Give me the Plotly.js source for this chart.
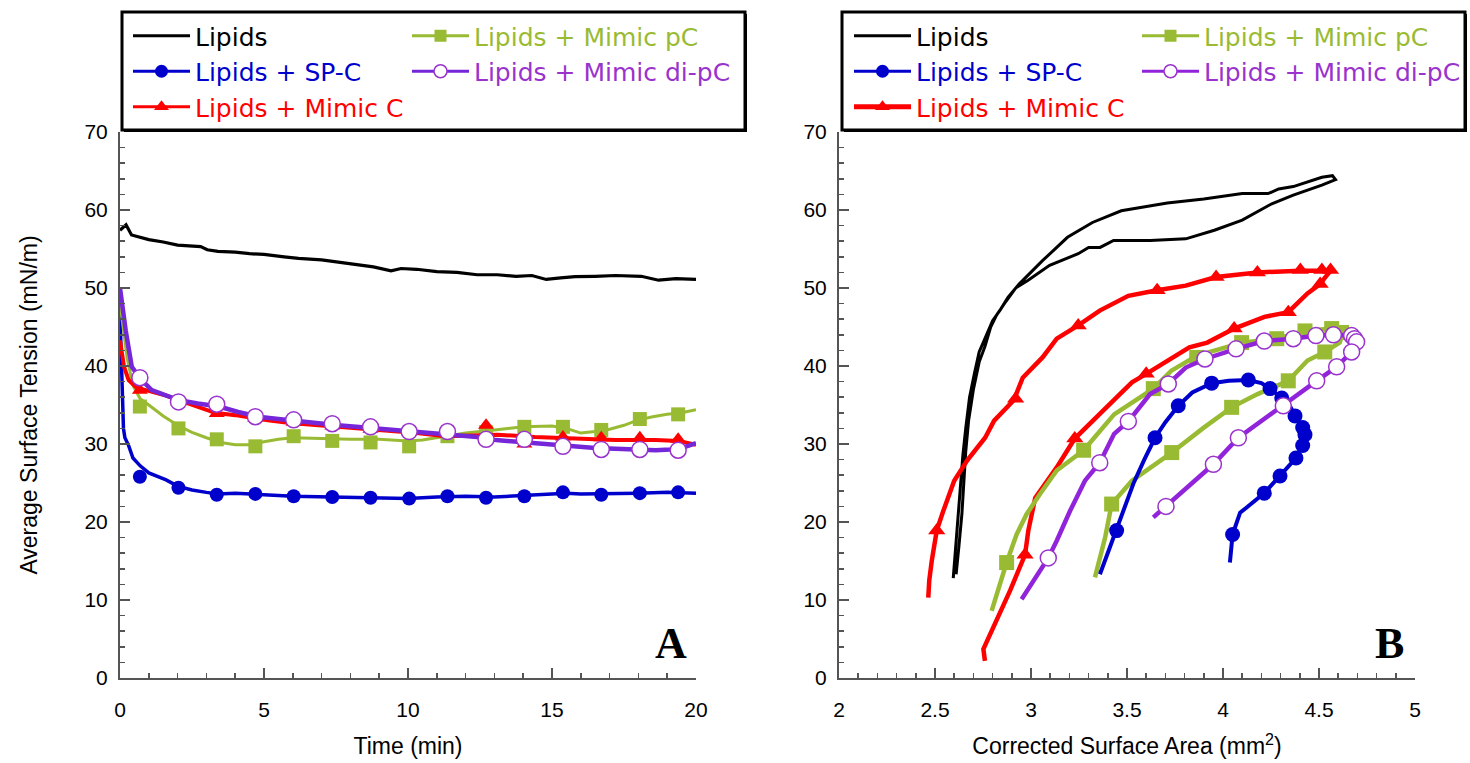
<!DOCTYPE html>
<html><head><meta charset="utf-8">
<script src="https://cdn.plot.ly/plotly-3.0.1.min.js"></script>
<style>html,body{margin:0;padding:0;background:#fff}#chart{width:1470px;height:763px}</style>
</head><body><div id="chart"></div>
<script>
// ---------- Panel A : surface tension vs time ----------
const A_lipids_t = [0,0.1,0.21,0.4,0.7,1.0,1.5,2.0,2.8,3.03,3.4,4.0,4.5,5.0,5.7,6.2,7.0,7.6,8.25,8.8,9.41,9.76,10.3,11.0,11.7,12.4,13.1,13.75,14.3,14.8,15.3,15.8,16.5,17.2,18.1,18.4,18.7,19.3,20];
const A_lipids_v = [57.4,57.7,58.1,56.8,56.5,56.2,55.9,55.5,55.3,54.9,54.7,54.6,54.4,54.3,54.0,53.8,53.6,53.3,52.9,52.7,52.2,52.5,52.4,52.1,52.0,51.7,51.7,51.5,51.6,51.1,51.3,51.45,51.5,51.6,51.5,51.3,51.0,51.2,51.1];

const A_spc_t = [0,0.04,0.08,0.12,0.17,0.3,0.45,0.7,1.0,1.3,1.6,2.0,2.5,3.0,3.4,4.0,4.7,5.5,6.0,7.0,8.0,9.0,10.0,11.0,12.0,13.0,14.0,15.0,15.5,16.0,17.0,18.0,19.0,20.0];
const A_spc_v = [46.5,41,36,32,30.8,29.8,28.2,27.2,26.3,25.8,25.4,24.6,24.1,23.8,23.6,23.7,23.6,23.4,23.3,23.2,23.2,23.1,23.0,23.2,23.3,23.2,23.4,23.6,23.7,23.6,23.6,23.7,23.8,23.7];

const A_pc_t = [0,0.1,0.25,0.45,0.7,1,1.5,2,2.5,3,3.5,4,4.5,5,5.5,6,7,8,9,10,10.5,11,11.5,12,13,14,15,15.5,16,16.5,17,17.5,18,18.5,19,19.5,20];
const A_pc_v = [48,45,41,37.5,35.8,35.0,33.6,32.4,31.5,30.8,30.2,29.9,29.9,30.3,30.6,30.8,30.7,30.6,30.6,30.4,30.5,30.8,31.1,31.4,31.8,32.2,32.3,32.0,31.4,31.6,31.9,32.4,33.1,33.5,33.8,34.0,34.4];

const A_mc_t = [0,0.14,0.3,0.55,0.8,1.2,1.6,2.06,2.7,3.3,4.0,4.6,5.2,5.9,6.6,7.3,8.0,8.8,9.5,10.3,11.3,12.2,13.1,14.4,15.8,17.2,18.6,19.4,20];
const A_mc_v = [43.3,39.9,38.2,37.3,37.0,36.6,36.2,35.6,34.8,34.0,33.7,33.3,33.0,32.7,32.5,32.2,32.0,31.8,31.6,31.4,31.0,31.1,31.2,30.9,30.7,30.5,30.5,30.4,29.9];

const A_dipc_t = [0,0.1,0.2,0.41,0.7,1.1,1.5,2.06,2.7,3.44,4.1,4.8,5.5,6.2,6.9,7.56,8.2,8.9,9.6,10.3,11.0,11.7,12.4,13.06,13.7,14.4,15.1,15.8,16.5,17.2,17.9,18.6,19.1,19.6,20];
const A_dipc_v = [50,47,44.5,39.9,38.4,36.9,36.3,35.6,35.2,34.8,34.1,33.5,33.2,32.9,32.6,32.4,32.2,32.0,31.8,31.6,31.4,31.2,30.9,30.5,30.3,30.1,29.9,29.7,29.5,29.4,29.3,29.2,29.3,29.6,30.1];

// marker positions (time, min) shared by all panel-A symbol series
const A_mark_t = [0.69,2.03,3.36,4.7,6.03,7.37,8.7,10.04,11.37,12.71,14.04,15.38,16.71,18.05,19.38];
const A_spc_mark_v  = [25.8,24.4,23.5,23.6,23.3,23.2,23.1,23.0,23.3,23.1,23.3,23.8,23.5,23.7,23.8];
const A_pc_mark_v   = [34.8,32.0,30.6,29.7,31.0,30.4,30.2,29.7,31.0,31.5,32.2,32.2,31.8,33.2,33.8];
const A_mc_mark_v   = [36.9,35.4,33.9,33.3,32.8,32.3,31.9,31.6,31.3,32.4,30.0,30.9,30.8,30.8,30.6];
const A_dipc_mark_v = [38.5,35.4,35.1,33.5,33.1,32.6,32.2,31.6,31.6,30.6,30.6,29.7,29.3,29.3,29.2];

// ---------- Panel B : surface tension vs corrected area ----------
const B_lipids_a = [2.595,2.605,2.62,2.635,2.645,2.66,2.68,2.705,2.73,2.76,2.80,2.84,2.88,2.938,3.06,3.19,3.32,3.47,3.71,3.90,4.10,4.235,4.29,4.366,4.46,4.515,4.57,4.586,4.515,4.366,4.254,4.10,3.955,3.806,3.62,3.43,3.36,3.30,3.246,3.097,2.985,2.92,2.87,2.82,2.79,2.76,2.73,2.70,2.675,2.66,2.65,2.64,2.625,2.61];
const B_lipids_v = [12.8,16,20,25,28.5,32,36,39,41.8,43.5,45.8,47.2,48.8,50.5,53.5,56.5,58.4,59.9,60.9,61.4,62.1,62.1,62.7,63.0,63.7,64.2,64.4,63.9,63.2,61.9,60.8,58.7,57.4,56.3,56.1,56.1,55.2,55.2,54.4,52.9,51.0,50.0,48.3,46.5,45.0,42.5,40.5,37,33,29,25,21,17,13.3];

const B_mc_a = [2.465,2.47,2.483,2.509,2.543,2.60,2.668,2.761,2.808,2.91,2.957,3.06,3.134,3.246,3.358,3.507,3.657,3.806,3.964,4.179,4.403,4.515,4.56,4.53,4.506,4.44,4.34,4.216,4.058,3.918,3.825,3.60,3.526,3.377,3.228,3.134,3.022,2.986,2.969,2.891,2.821,2.752,2.76];
const B_mc_v = [10.3,12.5,15.0,18.9,21.4,25.3,27.9,30.8,33.0,35.6,38.5,41.1,43.5,45.2,47.1,49.0,49.7,50.3,51.4,52.0,52.2,52.2,52.2,51.3,50.5,49.3,46.9,46.3,44.8,43.0,42.4,39.0,37.9,34.3,30.7,27.0,23.1,18.9,15.8,11.2,7.3,3.7,2.2];
const B_mc_mark_a = [2.509,2.92,3.246,3.657,3.964,4.179,4.403,4.515,4.56,4.506,4.34,4.058,3.60,3.228,2.969];
const B_mc_mark_v = [18.9,35.8,45.2,49.7,51.4,52.0,52.3,52.3,52.3,50.5,46.9,44.8,39.0,30.7,15.8];

const B_pc_a = [2.795,2.83,2.873,2.925,2.977,3.047,3.134,3.274,3.433,3.637,3.731,3.863,4.097,4.28,4.427,4.566,4.627,4.608,4.53,4.44,4.34,4.18,4.045,3.9,3.733,3.526,3.42,3.386,3.333];
const B_pc_v = [8.6,11.5,14.8,18.4,21.0,23.6,26.6,29.2,33.8,37.1,39.4,41.3,43.0,43.5,44.5,44.8,44.5,43.0,41.8,40.7,38.1,36.4,34.7,32.1,28.9,25.3,22.3,18.0,12.9];
const B_pc_mark_a = [2.873,3.274,3.637,3.863,4.097,4.28,4.427,4.566,4.618,4.53,4.34,4.045,3.733,3.42];
const B_pc_mark_v = [14.8,29.2,37.1,41.1,43.0,43.5,44.5,44.8,44.3,41.8,38.1,34.7,28.9,22.3];

const B_spc_a = [3.359,3.40,3.446,3.49,3.533,3.59,3.646,3.70,3.767,3.84,3.941,4.03,4.132,4.20,4.245,4.306,4.35,4.375,4.415,4.427,4.415,4.38,4.297,4.215,4.12,4.089,4.05,4.036];
const B_spc_v = [13.3,16,18.9,21.9,24.9,28,30.8,32.8,34.9,36.6,37.8,38.1,38.2,37.8,37.1,35.9,34.8,33.6,32.1,31.2,29.8,28.2,25.9,23.7,21.8,21.2,18.4,14.8];
const B_spc_mark_a = [3.446,3.646,3.767,3.941,4.132,4.245,4.306,4.375,4.415,4.427,4.415,4.38,4.297,4.215,4.05];
const B_spc_mark_v = [18.9,30.8,34.9,37.8,38.2,37.1,35.9,33.6,32.1,31.2,29.8,28.2,25.9,23.7,18.4];

const B_dipc_a = [2.951,3.02,3.09,3.134,3.203,3.281,3.358,3.433,3.507,3.62,3.715,3.806,3.906,4.068,4.215,4.366,4.484,4.575,4.67,4.69,4.696,4.67,4.592,4.488,4.40,4.314,4.18,4.08,3.95,3.83,3.703,3.637];
const B_dipc_v = [10.1,12.8,15.4,17.6,21.4,25.3,27.6,31.3,32.9,36.4,37.7,39.8,40.9,42.2,43.2,43.5,43.9,44.0,43.9,43.4,43.0,41.8,39.9,38.1,36.5,34.9,32.5,30.8,27.4,24.8,22.0,20.6];
const B_dipc_mark_a = [3.09,3.358,3.507,3.715,3.906,4.068,4.215,4.366,4.484,4.575,4.67,4.685,4.696,4.67,4.592,4.488,4.314,4.08,3.95,3.703];
const B_dipc_mark_v = [15.4,27.6,32.9,37.7,40.9,42.2,43.2,43.5,43.9,44.0,43.9,43.5,43.1,41.8,39.9,38.1,34.9,30.8,27.4,22.0];

// legend labels
const names = {lipids:'Lipids', spc:'Lipids + SP-C', mc:'Lipids + Mimic C', pc:'Lipids + Mimic pC', dipc:'Lipids + Mimic di-pC'};
const textCol = {lipids:'#000000', spc:'#0000CC', mc:'#FF0000', pc:'#99BB33', dipc:'#9933CC'};

// ---------- styling ----------
const W = 1470, H = 763;
const px = p => p / W, py = p => 1 - p / H;
const SANS = 'Liberation Sans, Arial, sans-serif';
const C = {lipids:'#000000', spc:'#0000CC', mc:'#FF0000', pc:'#99BB33', dipcA:'#7426D8', dipcB:'#9124DA', dipcEdge:'#9933CC'};

function line(x, y, color, width, xa, ya) {
  return {x, y, mode:'lines', line:{color, width, shape:'linear'}, xaxis:xa, yaxis:ya, showlegend:false, hoverinfo:'skip'};
}
function marks(x, y, marker, xa, ya) {
  return {x, y, mode:'markers', marker, xaxis:xa, yaxis:ya, showlegend:false, hoverinfo:'skip', cliponaxis:false};
}
function proxy(key, color, width, marker, xa, ya, legend) {
  const t = {x:[null], y:[null], mode: marker ? 'lines+markers' : 'lines',
    name:'<span style="color:' + textCol[key] + '">' + names[key] + '</span>',
    line:{color, width}, xaxis:xa, yaxis:ya, legend, showlegend:true, hoverinfo:'skip'};
  if (marker) t.marker = marker;
  return t;
}
const mCirc = (c, s) => ({symbol:'circle', size:s, color:c, line:{width:0}});
const mSq = (c, s) => ({symbol:'square', size:s, color:c, line:{width:0}});
const mTri = (c, s) => ({symbol:'triangle-up', size:s, color:c, line:{width:0}});
const mOpen = (s) => ({symbol:'circle', size:s, color:'#FFFFFF', line:{width:1.5, color:C.dipcEdge}});

const traces = [
  // panel A
  line(A_lipids_t, A_lipids_v, C.lipids, 3.2, 'x', 'y'),
  line(A_spc_t, A_spc_v, C.spc, 3.5, 'x', 'y'),
  marks(A_mark_t, A_spc_mark_v, mCirc(C.spc, 14), 'x', 'y'),
  line(A_pc_t, A_pc_v, C.pc, 3, 'x', 'y'),
  marks(A_mark_t, A_pc_mark_v, mSq(C.pc, 14), 'x', 'y'),
  line(A_mc_t, A_mc_v, C.mc, 4, 'x', 'y'),
  marks(A_mark_t, A_mc_mark_v, mTri(C.mc, 14), 'x', 'y'),
  line(A_dipc_t, A_dipc_v, C.dipcA, 4.5, 'x', 'y'),
  marks(A_mark_t, A_dipc_mark_v, mOpen(16), 'x', 'y'),
  // panel B
  line(B_lipids_a, B_lipids_v, C.lipids, 3, 'x2', 'y2'),
  line(B_mc_a, B_mc_v, C.mc, 4.5, 'x2', 'y2'),
  marks(B_mc_mark_a, B_mc_mark_v, mTri(C.mc, 15), 'x2', 'y2'),
  line(B_pc_a, B_pc_v, C.pc, 4.5, 'x2', 'y2'),
  marks(B_pc_mark_a, B_pc_mark_v, mSq(C.pc, 15), 'x2', 'y2'),
  line(B_spc_a, B_spc_v, C.spc, 4, 'x2', 'y2'),
  marks(B_spc_mark_a, B_spc_mark_v, mCirc(C.spc, 15), 'x2', 'y2'),
  line(B_dipc_a, B_dipc_v, C.dipcB, 4.5, 'x2', 'y2'),
  marks(B_dipc_mark_a, B_dipc_mark_v, mOpen(16), 'x2', 'y2'),
  // legend entries
  proxy('lipids', C.lipids, 3, null, 'x', 'y', 'legend'),
  proxy('spc', C.spc, 3, mCirc(C.spc, 13), 'x', 'y', 'legend'),
  proxy('mc', C.mc, 3, mTri(C.mc, 13), 'x', 'y', 'legend'),
  proxy('pc', C.pc, 3, mSq(C.pc, 12), 'x', 'y', 'legend2'),
  proxy('dipc', C.dipcA, 3, mOpen(13), 'x', 'y', 'legend2'),
  proxy('lipids', C.lipids, 3, null, 'x2', 'y2', 'legend3'),
  proxy('spc', C.spc, 3, mCirc(C.spc, 13), 'x2', 'y2', 'legend3'),
  proxy('mc', C.mc, 5, mTri(C.mc, 13), 'x2', 'y2', 'legend3'),
  proxy('pc', C.pc, 3, mSq(C.pc, 12), 'x2', 'y2', 'legend4'),
  proxy('dipc', C.dipcB, 3, mOpen(13), 'x2', 'y2', 'legend4')
];

const tickStyle = {showline:true, linecolor:'#555', linewidth:2, ticks:'inside', ticklen:10, tickwidth:1.5, tickcolor:'#555',
  showgrid:false, zeroline:false, fixedrange:true, tickfont:{family:SANS, size:21, color:'#000'}};
const minorStyle = {ticks:'inside', ticklen:5, tickwidth:1.5, tickcolor:'#555', showgrid:false};
const titleFont = {family:SANS, size:23, color:'#000'};
const yDom = [1 - 678 / H, 1 - 132 / H];

function legendAt(xp) {
  return {x:px(xp), y:py(13), xanchor:'left', yanchor:'top', orientation:'v', bgcolor:'rgba(0,0,0,0)', borderwidth:0,
    font:{family:'DejaVu Sans, sans-serif', size:25, color:'#000'}, itemwidth:57, tracegroupgap:0, itemclick:false, itemdoubleclick:false};
}
function box(x0, x1, y0, y1) {
  return [
    {type:'rect', xref:'paper', yref:'paper', x0:px(x0 + 2), x1:px(x1 + 2), y0:py(y0 + 2), y1:py(y1 + 2), fillcolor:'#000', line:{width:0}, layer:'above'},
    {type:'rect', xref:'paper', yref:'paper', x0:px(x0), x1:px(x1), y0:py(y0), y1:py(y1), fillcolor:'#fff', line:{color:'#000', width:3}, layer:'above'}
  ];
}

const layout = {
  width:W, height:H, margin:{l:0, r:0, t:0, b:0}, paper_bgcolor:'#fff', plot_bgcolor:'#fff', showlegend:true,
  xaxis: Object.assign({}, tickStyle, {domain:[px(120), px(696)], range:[0, 20], tick0:0, dtick:5, anchor:'y',
    minor:Object.assign({dtick:1}, minorStyle), ticklabelstandoff:12,
    title:{text:'Time (min)', font:titleFont, standoff:18}}),
  yaxis: Object.assign({}, tickStyle, {domain:yDom, range:[0, 70], tick0:0, dtick:10, anchor:'x',
    minor:Object.assign({dtick:2}, minorStyle), ticklabelstandoff:6,
    title:{text:'Average Surface Tension (mN/m)', font:titleFont, standoff:40}}),
  xaxis2: Object.assign({}, tickStyle, {domain:[px(839), px(1415)], range:[2, 5], tick0:2, dtick:0.5, anchor:'y2',
    minor:Object.assign({dtick:0.1}, minorStyle), ticklabelstandoff:12,
    title:{text:'Corrected Surface Area (mm<sup>2</sup>)', font:titleFont, standoff:18}}),
  yaxis2: Object.assign({}, tickStyle, {domain:yDom, range:[0, 70], tick0:0, dtick:10, anchor:'x2',
    minor:Object.assign({dtick:2}, minorStyle), ticklabelstandoff:6}),
  legend: legendAt(128), legend2: legendAt(407), legend3: legendAt(849), legend4: legendAt(1137),
  shapes: [].concat(box(122, 745, 12, 130), box(842, 1465, 12, 130)),
  annotations: [
    {text:'<b>A</b>', xref:'paper', yref:'paper', x:px(671), y:py(643), xanchor:'center', yanchor:'middle', showarrow:false,
     font:{family:'Liberation Serif, Times New Roman, serif', size:44, color:'#000'}},
    {text:'<b>B</b>', xref:'paper', yref:'paper', x:px(1389), y:py(643), xanchor:'center', yanchor:'middle', showarrow:false,
     font:{family:'Liberation Serif, Times New Roman, serif', size:44, color:'#000'}}
  ]
};

Plotly.newPlot('chart', traces, layout, {displayModeBar:false, staticPlot:true});
</script>
</body></html>
